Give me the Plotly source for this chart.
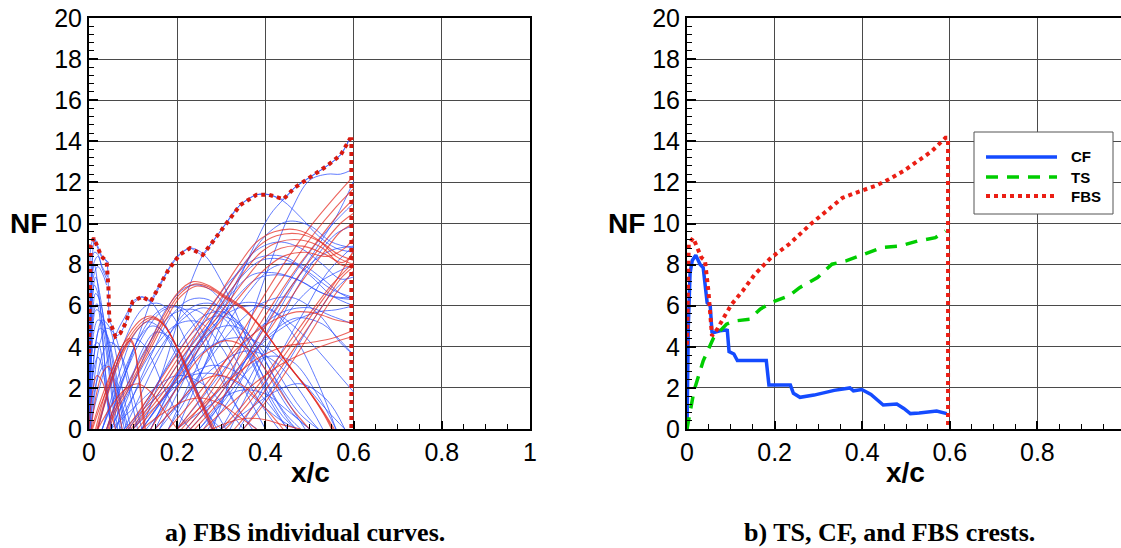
import plotly.graph_objects as go

# ---------------- Left panel: FBS individual curves ----------------
blue_x = [
    [0, 0.003, 0.008, 0.013, 0.02, 0.03, 0.045],
    [0, 0.004, 0.01, 0.02, 0.03, 0.042],
    [0, 0.004, 0.01, 0.02, 0.03, 0.04],
    [0, 0.003, 0.008, 0.015, 0.025, 0.035, 0.045, 0.055, 0.065],
    [0, 0.003, 0.008, 0.015, 0.025, 0.04, 0.055, 0.07],
    [0, 0.004, 0.01, 0.02, 0.03, 0.045, 0.06, 0.08],
    [0.002, 0.008, 0.018, 0.03, 0.045, 0.06, 0.075, 0.095],
    [0.003, 0.012, 0.025, 0.04, 0.055, 0.07, 0.09, 0.11],
    [0.005, 0.015, 0.03, 0.045, 0.06, 0.08, 0.1, 0.12],
    [0, 0.005, 0.01, 0.02, 0.03, 0.04, 0.05],
    [0, 0.004, 0.01, 0.02, 0.035, 0.05],
    [0, 0.01, 0.02, 0.035, 0.05, 0.065, 0.085],
    [0, 0.002, 0.006, 0.012, 0.02, 0.03, 0.04],
    [0, 0.003, 0.007, 0.012, 0.02, 0.03, 0.045, 0.06],
    [0, 0.002, 0.006, 0.012, 0.02, 0.03, 0.04, 0.05],
    [0, 0.003, 0.008, 0.016, 0.028, 0.042, 0.058, 0.075],
    [0.001, 0.006, 0.014, 0.025, 0.04, 0.055, 0.07, 0.09],
    [0, 0.004, 0.01, 0.018, 0.028, 0.04, 0.052],
    [0.02, 0.05, 0.08, 0.1, 0.12, 0.14, 0.17, 0.2, 0.23],
    [0.03, 0.07, 0.1, 0.13, 0.15, 0.18, 0.22, 0.26, 0.28],
    [0.04, 0.08, 0.11, 0.14, 0.16, 0.19, 0.23, 0.27, 0.3],
    [0.05, 0.09, 0.12, 0.15, 0.18, 0.21, 0.25, 0.28],
    [0.0, 0.03, 0.06, 0.08, 0.1, 0.12, 0.14, 0.17, 0.21, 0.26, 0.29],
    [0.02, 0.06, 0.1, 0.13, 0.16, 0.19, 0.23, 0.28, 0.31],
    [0.04, 0.08, 0.12, 0.14, 0.17, 0.2, 0.23, 0.26, 0.3, 0.35, 0.4, 0.45, 0.47],
    [0.06, 0.1, 0.14, 0.18, 0.22, 0.25, 0.28, 0.32, 0.36, 0.4, 0.44, 0.47],
    [0.07, 0.11, 0.15, 0.19, 0.23, 0.27, 0.31, 0.35, 0.4, 0.44, 0.48],
    [0.08, 0.12, 0.16, 0.2, 0.24, 0.28, 0.32, 0.36, 0.41, 0.46, 0.5],
    [0.1, 0.14, 0.18, 0.22, 0.26, 0.3, 0.34, 0.38, 0.43, 0.48, 0.52],
    [0.12, 0.17, 0.21, 0.25, 0.29, 0.33, 0.37, 0.42, 0.47, 0.52],
    [0.04, 0.09, 0.14, 0.19, 0.24, 0.29, 0.34, 0.39, 0.43],
    [0.06, 0.11, 0.16, 0.21, 0.26, 0.31, 0.36, 0.41, 0.45],
    [0.09, 0.14, 0.19, 0.24, 0.29, 0.34, 0.39, 0.44, 0.49],
    [0.03, 0.08, 0.13, 0.17, 0.21, 0.25, 0.29, 0.33, 0.37],
    [0.1, 0.16, 0.22, 0.28, 0.34, 0.4, 0.46, 0.52, 0.56],
    [0.05, 0.1, 0.15, 0.2, 0.25, 0.3, 0.35, 0.4],
    [0.12, 0.18, 0.24, 0.3, 0.36, 0.42, 0.48, 0.54, 0.58],
    [0.12, 0.17, 0.22, 0.27, 0.32, 0.37, 0.42, 0.47, 0.52, 0.56, 0.6],
    [0.13, 0.18, 0.23, 0.28, 0.33, 0.38, 0.43, 0.48, 0.53, 0.57, 0.6],
    [0.12, 0.17, 0.22, 0.258, 0.28, 0.31, 0.34, 0.38, 0.41, 0.44, 0.48, 0.52, 0.56, 0.6],
    [0.2, 0.26, 0.32, 0.37, 0.41, 0.441, 0.465, 0.5, 0.54, 0.57, 0.59],
    [0.28, 0.33, 0.38, 0.42, 0.46, 0.5, 0.54, 0.57, 0.595],
    [0.18, 0.24, 0.3, 0.35, 0.4, 0.45, 0.5, 0.55, 0.6],
    [0.16, 0.22, 0.28, 0.33, 0.38, 0.43, 0.48, 0.53, 0.57, 0.6],
    [0.32, 0.37, 0.42, 0.47, 0.52, 0.56, 0.6],
    [0.34, 0.39, 0.44, 0.49, 0.54, 0.6],
    [0.3, 0.35, 0.4, 0.45, 0.5, 0.55, 0.6],
    [0.14, 0.2, 0.26, 0.32, 0.37, 0.42, 0.47, 0.52, 0.56, 0.6],
    [0.22, 0.28, 0.34, 0.4, 0.46, 0.52, 0.56, 0.6],
    [0.16, 0.22, 0.28, 0.34, 0.4, 0.46, 0.52, 0.57, 0.6],
    [0.2, 0.26, 0.32, 0.38, 0.44, 0.5, 0.55, 0.6],
    [0.23, 0.29, 0.35, 0.41, 0.47, 0.53, 0.57, 0.6],
    [0.35, 0.4, 0.45, 0.5, 0.55, 0.6],
    [0.26, 0.32, 0.38, 0.44, 0.5, 0.55, 0.6],
    [0.14, 0.2, 0.26, 0.32, 0.38, 0.44, 0.5, 0.55, 0.6],
    [0.05, 0.1, 0.15, 0.2, 0.25, 0.3, 0.35],
    [0.1, 0.16, 0.22, 0.28, 0.34, 0.4, 0.45],
    [0.15, 0.22, 0.29, 0.36, 0.42, 0.48, 0.53],
    [0.25, 0.3, 0.35, 0.4, 0.46, 0.52, 0.56],
    [0.08, 0.13, 0.18, 0.23, 0.28, 0.33, 0.38, 0.43, 0.47],
    [0.2, 0.25, 0.3, 0.35, 0.4, 0.45, 0.5],
    [0.3, 0.36, 0.42, 0.48, 0.54, 0.58],
    [0.03, 0.07, 0.11, 0.15, 0.19, 0.23, 0.27, 0.31, 0.35, 0.38],
    [0.25, 0.32, 0.38, 0.44, 0.5, 0.55, 0.6],
    [0.27, 0.33, 0.39, 0.45, 0.51, 0.56, 0.6],
    [0.15, 0.21, 0.27, 0.33, 0.39, 0.45, 0.5, 0.55, 0.6],
    [0.18, 0.24, 0.3, 0.36, 0.42, 0.48, 0.53, 0.57, 0.6],
]
blue_y = [
    [0, 5, 8.5, 9.25, 8.9, 8.4, 8.1],
    [0, 4.5, 8.0, 8.4, 7.9, 7.4],
    [0, 4, 7.4, 7.9, 7.6, 7.0],
    [0, 3.5, 6.5, 7.4, 6.5, 5.0, 3.2, 1.5, 0],
    [0, 3, 5.5, 6.6, 6.2, 4.5, 2.2, 0],
    [0, 2.5, 4.6, 5.3, 5.2, 4.2, 2.4, 0],
    [0, 2.6, 4.5, 5.3, 5.0, 3.8, 2.0, 0],
    [0, 2.4, 4.2, 4.9, 4.7, 3.8, 2.0, 0],
    [0, 2.0, 3.6, 4.2, 4.1, 3.2, 1.6, 0],
    [0, 1.5, 2.8, 3.5, 3.0, 1.5, 0],
    [0, 2.2, 4.0, 4.2, 2.5, 0],
    [0, 1.5, 2.5, 3.1, 2.8, 1.8, 0],
    [0, 4, 7.5, 8.6, 8.5, 7.8, 7.3],
    [0, 3, 6, 7, 6.6, 5.2, 2.8, 0],
    [0, 4, 7, 8.0, 7.0, 4.8, 2.0, 0],
    [0, 2.5, 4.8, 5.8, 5.6, 4.3, 2.0, 0],
    [0, 2.2, 4.0, 4.9, 4.6, 3.4, 1.6, 0],
    [0, 3.2, 5.6, 6.1, 4.8, 2.2, 0],
    [0, 2.3, 4.0, 4.4, 4.2, 3.5, 2.0, 0.8, 0],
    [0, 2.8, 4.5, 5.2, 5.1, 4.3, 2.5, 0.7, 0],
    [0, 2.6, 4.3, 5.0, 4.9, 4.1, 2.4, 0.7, 0],
    [0, 2.0, 3.8, 4.7, 4.5, 3.6, 1.6, 0],
    [0, 2.5, 4.55, 5.4, 6.1, 6.42, 6.2, 5.2, 3.5, 1.2, 0],
    [0, 3, 5.2, 6.0, 6.1, 5.5, 3.8, 1.2, 0],
    [0, 2.5, 5.0, 6.2, 7.4, 8.4, 8.8, 8.5, 7.2, 4.8, 2.3, 0.5, 0],
    [0, 2.2, 4.3, 6.0, 6.9, 7.0, 6.7, 5.6, 3.8, 2.0, 0.6, 0],
    [0, 2.1, 4.0, 5.6, 6.3, 6.3, 5.6, 4.3, 2.4, 0.9, 0],
    [0, 1.8, 3.6, 5.2, 6.0, 6.1, 5.6, 4.4, 2.5, 0.8, 0],
    [0, 1.6, 3.2, 4.6, 5.5, 5.7, 5.2, 4.0, 2.2, 0.7, 0],
    [0, 1.6, 3.0, 4.2, 4.9, 5.0, 4.4, 3.0, 1.3, 0],
    [0, 2.3, 4.3, 5.6, 5.8, 4.9, 3.1, 1.2, 0],
    [0, 2.0, 3.9, 5.3, 5.9, 5.3, 3.6, 1.4, 0],
    [0, 1.7, 3.4, 4.8, 5.5, 5.1, 3.7, 1.7, 0],
    [0, 2.6, 4.8, 5.8, 5.9, 5.0, 3.2, 1.3, 0],
    [0, 1.8, 3.7, 5.2, 6.1, 6.0, 4.7, 2.2, 0],
    [0, 2.2, 4.0, 5.1, 5.2, 4.0, 2.0, 0],
    [0, 1.8, 3.4, 4.3, 4.4, 3.7, 2.4, 0.9, 0],
    [0, 1.5, 3.3, 5.0, 6.5, 7.5, 7.6, 7.3, 6.7, 6.4, 6.3],
    [0, 1.4, 3.2, 4.9, 6.3, 7.3, 7.5, 7.2, 6.6, 6.4, 6.4],
    [0, 3, 6.5, 8.47, 9.1, 10.0, 10.85, 11.4, 11.4, 11.1, 10.3, 9.4, 8.8, 8.6],
    [0, 3, 6.2, 8.7, 10.4, 11.18, 11.72, 12.25, 12.8, 13.35, 14.1],
    [0, 3.0, 6.2, 8.6, 10.7, 12.1, 12.4, 12.4, 12.6],
    [0, 2.8, 5.6, 7.8, 9.4, 10.1, 9.9, 9.1, 8.8],
    [0, 2.6, 5.4, 7.4, 8.7, 9.1, 8.8, 8.0, 7.3, 7.4],
    [0, 2.2, 4.6, 6.8, 8.5, 9.5, 9.9],
    [0, 1.8, 3.9, 5.8, 7.6, 8.9],
    [0, 1.9, 3.9, 5.6, 6.8, 7.5, 8.0],
    [0, 2.5, 4.5, 5.7, 6.0, 5.7, 4.9, 3.8, 2.8, 1.8],
    [0, 1.5, 3.0, 4.3, 5.2, 5.7, 5.8, 6.0],
    [0, 1.7, 3.6, 5.2, 6.2, 6.4, 5.6, 4.2, 3.6],
    [0, 1.6, 3.3, 4.8, 5.7, 5.9, 5.5, 5.1],
    [0, 1.5, 3.2, 4.6, 5.4, 5.1, 4.3, 3.6],
    [0, 1.5, 3.2, 5.0, 6.6, 7.6],
    [0, 2.0, 4.3, 6.4, 8.0, 8.7, 8.9],
    [0, 2.7, 5.3, 7.2, 8.3, 8.4, 7.6, 6.8, 6.4],
    [0, 1.0, 2.0, 2.6, 2.3, 1.3, 0],
    [0, 1.3, 2.5, 3.1, 2.7, 1.4, 0],
    [0, 1.6, 3.1, 3.8, 3.3, 1.8, 0],
    [0, 1.2, 2.6, 3.5, 3.3, 1.6, 0],
    [0, 1.1, 2.0, 2.6, 2.7, 2.3, 1.4, 0.5, 0],
    [0, 0.8, 1.5, 1.9, 1.7, 0.9, 0],
    [0, 0.9, 1.8, 2.2, 1.4, 0],
    [0, 2.3, 4.3, 5.6, 6.0, 5.3, 3.7, 2.0, 0.6, 0],
    [0, 2.0, 4.4, 6.7, 8.6, 9.9, 11.0],
    [0, 1.8, 4.2, 6.5, 8.6, 10.3, 12.05],
    [0, 2.5, 5.0, 7.0, 8.2, 8.2, 7.5, 6.5, 6.0],
    [0, 2.2, 4.6, 6.6, 7.9, 8.0, 7.3, 6.6, 6.3],
]

red_x = [
    [0.005, 0.015, 0.03, 0.045, 0.055, 0.065, 0.075],
    [0.006, 0.02, 0.04, 0.06, 0.08, 0.091, 0.1, 0.11, 0.125],
    [0.008, 0.022, 0.042, 0.062, 0.082, 0.092, 0.102, 0.112, 0.128],
    [0.015, 0.055, 0.09, 0.12, 0.14, 0.165, 0.2, 0.236, 0.26, 0.278],
    [0.018, 0.058, 0.093, 0.123, 0.143, 0.168, 0.203, 0.239, 0.263, 0.281],
    [0.02, 0.06, 0.095, 0.125, 0.145, 0.17, 0.205, 0.242, 0.266, 0.285],
    [0.04, 0.055, 0.093, 0.131, 0.168, 0.2, 0.236, 0.27, 0.3, 0.35, 0.4, 0.45, 0.5, 0.53, 0.55],
    [0.043, 0.058, 0.096, 0.134, 0.171, 0.203, 0.239, 0.273, 0.303, 0.353, 0.403, 0.453, 0.503, 0.533, 0.553],
    [0.046, 0.061, 0.099, 0.137, 0.174, 0.206, 0.242, 0.276, 0.306, 0.356, 0.406, 0.456, 0.506, 0.536, 0.556],
    [0.085, 0.15, 0.206, 0.25, 0.297, 0.34, 0.38, 0.42, 0.47, 0.52, 0.56, 0.6],
    [0.09, 0.155, 0.21, 0.255, 0.3, 0.345, 0.385, 0.425, 0.475, 0.525, 0.565, 0.6],
    [0.095, 0.16, 0.215, 0.26, 0.305, 0.35, 0.39, 0.43, 0.48, 0.53, 0.57, 0.6],
    [0.1, 0.165, 0.22, 0.265, 0.31, 0.355, 0.395, 0.435, 0.485, 0.535, 0.575, 0.6],
    [0.11, 0.17, 0.225, 0.27, 0.315, 0.36, 0.4, 0.44, 0.49, 0.54, 0.58, 0.6],
    [0.2, 0.25, 0.3, 0.35, 0.4, 0.45, 0.5, 0.55, 0.6],
    [0.21, 0.26, 0.31, 0.36, 0.41, 0.46, 0.51, 0.56, 0.6],
    [0.22, 0.27, 0.32, 0.37, 0.42, 0.47, 0.52, 0.56, 0.6],
    [0.23, 0.28, 0.33, 0.38, 0.43, 0.48, 0.53, 0.57, 0.6],
    [0.24, 0.29, 0.34, 0.39, 0.44, 0.49, 0.54, 0.57, 0.6],
    [0.3, 0.35, 0.4, 0.45, 0.5, 0.55, 0.6],
    [0.31, 0.36, 0.41, 0.46, 0.51, 0.56, 0.6],
    [0.33, 0.38, 0.43, 0.48, 0.53, 0.57, 0.6],
    [0.35, 0.4, 0.45, 0.5, 0.55, 0.6],
    [0.2, 0.26, 0.32, 0.38, 0.44, 0.5, 0.55, 0.6],
    [0.18, 0.24, 0.3, 0.36, 0.42, 0.47, 0.52, 0.56, 0.6],
    [0.26, 0.32, 0.38, 0.44, 0.5, 0.55, 0.6],
    [0.12, 0.17, 0.22, 0.26, 0.3, 0.34, 0.38],
    [0.28, 0.32, 0.36, 0.4, 0.44, 0.48],
    [0.15, 0.2, 0.25, 0.3, 0.35, 0.4, 0.44],
    [0.02, 0.05, 0.08, 0.11, 0.14, 0.17, 0.2],
    [0, 0.008, 0.018, 0.03, 0.045, 0.06],
    [0.14, 0.2, 0.26, 0.31, 0.36, 0.41, 0.46, 0.5],
]
red_y = [
    [0, 1.5, 2.7, 3.05, 2.5, 1.2, 0],
    [0, 1.0, 2.2, 3.3, 4.2, 4.4, 4.2, 3.0, 0],
    [0, 0.9, 2.0, 3.1, 4.0, 4.3, 4.0, 2.8, 0],
    [0, 3.0, 4.6, 5.35, 5.5, 5.2, 3.9, 2.06, 0.9, 0],
    [0, 2.9, 4.5, 5.25, 5.42, 5.12, 3.85, 2.0, 0.85, 0],
    [0, 2.8, 4.4, 5.15, 5.35, 5.05, 3.75, 1.95, 0.8, 0],
    [0, 0.93, 2.39, 3.93, 5.47, 6.6, 7.17, 7.0, 6.6, 5.9, 4.7, 3.2, 1.8, 0.8, 0],
    [0, 0.9, 2.3, 3.85, 5.4, 6.5, 7.05, 6.9, 6.5, 5.8, 4.6, 3.1, 1.7, 0.75, 0],
    [0, 0.85, 2.25, 3.8, 5.3, 6.4, 6.95, 6.8, 6.4, 5.7, 4.5, 3.0, 1.65, 0.7, 0],
    [0, 2.0, 3.85, 5.2, 6.6, 8.0, 9.1, 9.6, 9.7, 9.2, 8.4, 8.0],
    [0, 1.9, 3.7, 5.0, 6.4, 7.8, 8.9, 9.4, 9.5, 9.1, 8.5, 8.2],
    [0, 1.8, 3.6, 4.9, 6.2, 7.6, 8.6, 9.1, 9.2, 8.8, 8.0, 7.9],
    [0, 1.7, 3.4, 4.7, 6.0, 7.3, 8.3, 8.8, 8.9, 8.5, 8.1, 8.6],
    [0, 1.6, 3.2, 4.5, 5.7, 6.9, 7.8, 8.4, 8.6, 8.4, 8.8, 9.3],
    [0, 1.4, 3.0, 4.8, 6.6, 8.3, 9.8, 11.1, 12.3],
    [0, 1.3, 2.9, 4.6, 6.4, 8.0, 9.5, 10.8, 11.7],
    [0, 1.3, 2.8, 4.5, 6.2, 7.8, 9.2, 10.3, 11.2],
    [0, 1.2, 2.7, 4.3, 6.0, 7.6, 9.0, 10.0, 10.5],
    [0, 1.2, 2.6, 4.2, 5.8, 7.4, 8.8, 9.6, 10.0],
    [0, 1.2, 2.6, 4.1, 5.6, 7.0, 8.1],
    [0, 1.2, 2.6, 4.1, 5.7, 7.2, 8.7],
    [0, 1.3, 2.8, 4.4, 6.0, 7.3, 7.9],
    [0, 1.3, 2.9, 4.6, 6.3, 7.7],
    [0, 1.2, 2.4, 3.4, 4.0, 4.2, 4.4, 4.8],
    [0, 1.5, 3.1, 4.4, 5.3, 5.7, 5.6, 5.3, 5.15],
    [0, 1.2, 2.3, 3.2, 3.8, 4.2, 4.5],
    [0, 0.8, 1.4, 1.5, 1.2, 0.6, 0],
    [0, 0.35, 0.52, 0.45, 0.2, 0],
    [0, 1.2, 2.3, 2.6, 2.1, 1.0, 0],
    [0, 1.1, 1.9, 2.2, 1.8, 0.9, 0],
    [0, 1.8, 2.6, 2.3, 1.2, 0],
    [0, 2.0, 3.7, 4.3, 3.9, 2.6, 1.0, 0],
]

crest_x = [0, 0.002, 0.004, 0.011, 0.018, 0.028, 0.040, 0.044, 0.046, 0.052, 0.06, 0.071,
           0.083, 0.099, 0.12, 0.14, 0.16, 0.18, 0.205, 0.229, 0.258, 0.278, 0.311, 0.343,
           0.38, 0.408, 0.441, 0.465, 0.498, 0.538, 0.571, 0.591, 0.595, 0.595]
crest_y = [3.7, 6.3, 8.9, 9.3, 8.9, 8.4, 8.15, 6.9, 5.3, 5.0, 4.5, 4.66,
           5.15, 6.2, 6.44, 6.2, 6.93, 7.74, 8.47, 8.8, 8.47, 9.04, 10.0, 10.9,
           11.4, 11.4, 11.18, 11.72, 12.2, 12.78, 13.34, 14.1, 14.1, 0]

# ---------------- Right panel: crests ----------------
cf_x = [0, 0.003, 0.007, 0.012, 0.02, 0.03, 0.037, 0.042, 0.046, 0.053, 0.057, 0.062, 0.075,
        0.089, 0.092, 0.096, 0.107, 0.115, 0.181, 0.187, 0.236, 0.243, 0.258, 0.29, 0.336,
        0.372, 0.38, 0.399, 0.42, 0.448, 0.479, 0.495, 0.51, 0.53, 0.57, 0.593]
cf_y = [0, 5.0, 7.6, 8.2, 8.45, 8.0, 7.85, 7.0, 6.15, 6.0, 4.72, 4.7, 4.78,
        4.82, 4.8, 3.77, 3.65, 3.33, 3.33, 2.14, 2.14, 1.74, 1.54, 1.65, 1.88,
        2.0, 1.86, 1.92, 1.68, 1.17, 1.22, 1.0, 0.75, 0.78, 0.87, 0.75]

ts_x = [0, 0.016, 0.037, 0.061, 0.09, 0.11, 0.143, 0.167, 0.192, 0.233, 0.257, 0.298,
        0.331, 0.363, 0.404, 0.445, 0.486, 0.527, 0.567, 0.59]
ts_y = [0, 1.86, 3.32, 4.45, 5.1, 5.26, 5.34, 5.83, 6.15, 6.48, 6.88, 7.37,
        8.02, 8.18, 8.5, 8.83, 8.9, 9.15, 9.31, 9.64]

fbs_x = [0, 0.004, 0.014, 0.024, 0.033, 0.041, 0.049, 0.057, 0.069, 0.086, 0.102, 0.127,
         0.155, 0.192, 0.233, 0.282, 0.322, 0.355, 0.396, 0.429, 0.461, 0.494, 0.527,
         0.559, 0.59, 0.596, 0.596]
fbs_y = [4.1, 9.0, 9.3, 8.8, 8.34, 8.2, 6.7, 4.53, 4.86, 5.5, 6.07, 6.72,
         7.53, 8.34, 8.99, 9.96, 10.69, 11.25, 11.58, 11.82, 12.15, 12.55, 13.04,
         13.52, 14.17, 14.17, 0]

y_ticks = [0, 2, 4, 6, 8, 10, 12, 14, 16, 18, 20]
x_ticks = [0, 0.2, 0.4, 0.6, 0.8, 1]
x_tick_text = ["0", "0.2", "0.4", "0.6", "0.8", "1"]
legend_names = ["CF", "TS", "FBS"]
captions = ["a) FBS individual curves.", "b) TS, CF, and FBS crests."]

# ---------------- Figure ----------------
W, H = 1121, 548
fig = go.Figure()

BLUE_THIN = "rgba(45,80,255,0.75)"
RED_THIN = "rgba(228,40,30,0.72)"
CF_COL = "rgb(20,75,255)"
TS_COL = "rgb(0,205,0)"
FBS_COL = "rgb(235,30,20)"
TS_DASH = "12px,9px"

for xs, ys in zip(blue_x, blue_y):
    fig.add_trace(go.Scatter(x=xs, y=ys, mode="lines", xaxis="x", yaxis="y",
                             line=dict(color=BLUE_THIN, width=1, shape="spline", smoothing=1.0),
                             showlegend=False, hoverinfo="skip"))
for xs, ys in zip(red_x, red_y):
    fig.add_trace(go.Scatter(x=xs, y=ys, mode="lines", xaxis="x", yaxis="y",
                             line=dict(color=RED_THIN, width=1.1, shape="spline", smoothing=1.0),
                             showlegend=False, hoverinfo="skip"))
fig.add_trace(go.Scatter(x=crest_x[:-2], y=crest_y[:-2], mode="lines", xaxis="x", yaxis="y",
                         line=dict(color=BLUE_THIN, width=1, shape="spline", smoothing=0.6),
                         showlegend=False, hoverinfo="skip"))
fig.add_trace(go.Scatter(x=crest_x, y=crest_y, mode="lines", xaxis="x", yaxis="y",
                         line=dict(color="rgb(215,25,15)", width=4, dash="dot"),
                         showlegend=False, hoverinfo="skip"))

fig.add_trace(go.Scatter(x=cf_x, y=cf_y, mode="lines", name=legend_names[0], xaxis="x2", yaxis="y2",
                         line=dict(color=CF_COL, width=3.5), showlegend=False))
fig.add_trace(go.Scatter(x=ts_x, y=ts_y, mode="lines", name=legend_names[1], xaxis="x2", yaxis="y2",
                         line=dict(color=TS_COL, width=3.5, dash=TS_DASH), showlegend=False))
fig.add_trace(go.Scatter(x=fbs_x, y=fbs_y, mode="lines", name=legend_names[2], xaxis="x2", yaxis="y2",
                         line=dict(color=FBS_COL, width=4, dash="dot"), showlegend=False))

ydom = [(H - 429) / H, (H - 18) / H]
tickfont = dict(family="Liberation Sans, Arial, sans-serif", size=25, color="black")


def xaxis_cfg(domain, rng, anchor):
    return dict(domain=domain, range=rng, anchor=anchor, tickvals=x_ticks, ticktext=x_tick_text,
                ticks="inside", ticklen=8, tickwidth=2, tickcolor="black", automargin=False,
                showline=True, linewidth=2, linecolor="black", mirror=True,
                showgrid=True, gridcolor="#4a4a4a", gridwidth=1, zeroline=False,
                tickfont=tickfont,
                minor=dict(dtick=0.05, tick0=0, ticks="inside", ticklen=5, tickwidth=1,
                           tickcolor="black", showgrid=False))


def yaxis_cfg(anchor, mirror):
    return dict(domain=ydom, range=[0, 20], anchor=anchor, tickvals=y_ticks,
                ticks="inside", ticklen=9, tickwidth=2, tickcolor="black", automargin=False,
                showline=True, linewidth=2, linecolor="black", mirror=mirror,
                showgrid=True, gridcolor="#4a4a4a", gridwidth=1, zeroline=False,
                tickfont=tickfont,
                minor=dict(dtick=0.4, tick0=0, ticks="inside", ticklen=5, tickwidth=1,
                           tickcolor="black", showgrid=False))


fig.update_layout(
    width=W, height=H, autosize=False,
    margin=dict(l=0, r=0, t=0, b=0, pad=0),
    paper_bgcolor="white", plot_bgcolor="white",
    xaxis=xaxis_cfg([89 / W, 530 / W], [0, 1], "y"),
    yaxis=yaxis_cfg("x", True),
    xaxis2=xaxis_cfg([687 / W, 1.0], [0, (W - 687) / 438.0], "y2"),
    yaxis2=yaxis_cfg("x2", False),
    showlegend=False,
)

# manual legend (paper pixel positions)
def px(x):
    return x / W


def py(y):
    return (H - y) / H


fig.add_shape(type="rect", xref="paper", yref="paper", x0=px(974), x1=px(1113), y0=py(214), y1=py(132),
              line=dict(color="#555", width=1), fillcolor="white", layer="above")
legend_rows = [(157, CF_COL, "solid", 3.5), (177, TS_COL, TS_DASH, 3.5), (196, FBS_COL, "dot", 4)]
for (yy, col, dash, wd), name in zip(legend_rows, legend_names):
    fig.add_shape(type="line", xref="paper", yref="paper", x0=px(986), x1=px(1057), y0=py(yy), y1=py(yy),
                  line=dict(color=col, width=wd, dash=dash), layer="above")
    fig.add_annotation(text="<b>" + name + "</b>", x=px(1069), y=py(yy), xref="paper", yref="paper",
                       showarrow=False, xanchor="left", yanchor="middle",
                       font=dict(family="Liberation Sans, Arial, sans-serif", size=15, color="black"))

ann_font_b = dict(family="Liberation Sans, Arial, sans-serif", size=28, color="black")
cap_font = dict(family="Liberation Serif, Times New Roman, serif", size=26, color="black")
annotations = [
    dict(text="<b>NF</b>", x=px(28), y=py(224)),
    dict(text="<b>NF</b>", x=px(626), y=py(224)),
    dict(text="<b>x/c</b>", x=px(310), y=py(472)),
    dict(text="<b>x/c</b>", x=px(905), y=py(472)),
]
for a in annotations:
    fig.add_annotation(xref="paper", yref="paper", showarrow=False, xanchor="center",
                       yanchor="middle", font=ann_font_b, **a)
fig.add_annotation(text="<b>" + captions[0] + "</b>", x=px(305), y=py(532), xref="paper",
                   yref="paper", showarrow=False, xanchor="center", yanchor="middle", font=cap_font)
fig.add_annotation(text="<b>" + captions[1] + "</b>", x=px(889), y=py(532), xref="paper",
                   yref="paper", showarrow=False, xanchor="center", yanchor="middle", font=cap_font)

fig.write_html("out.html")
